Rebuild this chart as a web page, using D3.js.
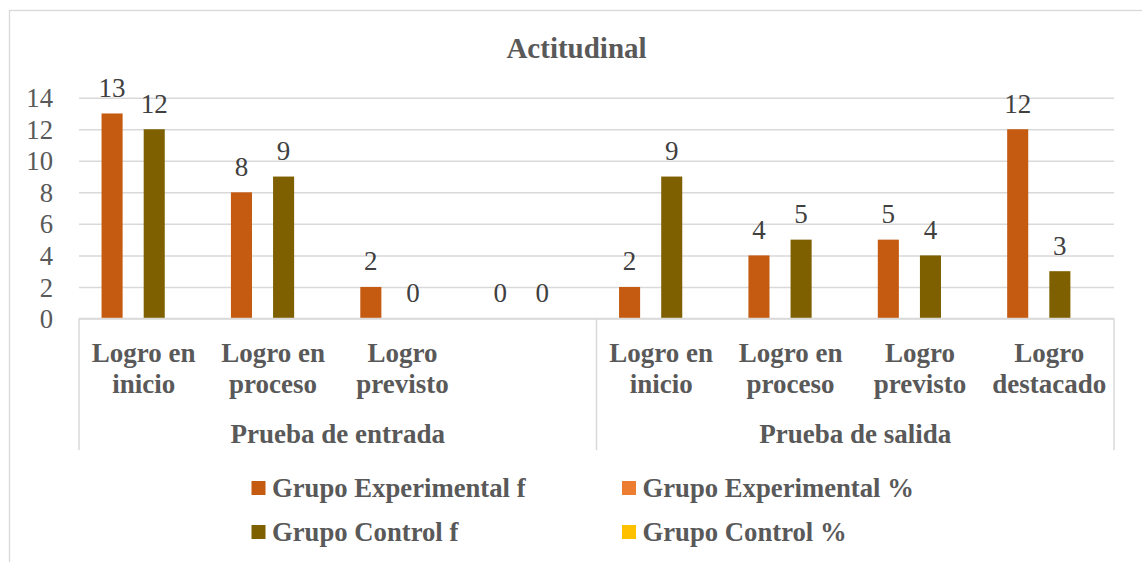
<html>
<head>
<meta charset="utf-8">
<script src="https://cdn.jsdelivr.net/npm/d3@7"></script>
</head>
<body style="margin:0">
<svg id="chart" width="1142" height="562" font-family="Times New Roman, Liberation Serif, Tinos, serif"></svg>
<script>
// ---- data ----
const title = "Actitudinal";
const categories = ["Logro en\ninicio", "Logro en\nproceso", "Logro\nprevisto", "",
                    "Logro en\ninicio", "Logro en\nproceso", "Logro\nprevisto", "Logro\ndestacado"];
const groups = ["Prueba de entrada", "Prueba de salida"];
const groupOf = [0, 0, 0, 0, 1, 1, 1, 1];
const seriesNames = ["Grupo Experimental f", "Grupo Experimental %", "Grupo Control f", "Grupo Control %"];
const expF   = [13, 8, 2, 0, 2, 4, 5, 12];
const expPct = [null, null, null, null, null, null, null, null];
const ctrlF  = [12, 9, 0, 0, 9, 5, 4, 3];
const ctrlPct= [null, null, null, null, null, null, null, null];
const seriesValues = [expF, expPct, ctrlF, ctrlPct];
const seriesColors = ["#C55A11", "#ED7D31", "#7F6000", "#FFC000"];
const yTicks = [0, 2, 4, 6, 8, 10, 12, 14];

const FAMILY = "Times New Roman, Liberation Serif, Tinos, serif";

// ---- layout ----
const svg = d3.select("#chart");
const plot = { left: 79, right: 1114, top: 97.7, bottom: 318.5 };
const gridColor = "#d9d9d9";
const textGray = "#595959";
const labelGray = "#404040";

function addText(parent, x, yy, str, size, bold, fill, anchor) {
  return parent.append("text")
    .attr("x", x).attr("y", yy)
    .attr("font-family", FAMILY)
    .attr("font-size", size)
    .attr("font-weight", bold ? "bold" : "normal")
    .attr("text-anchor", anchor)
    .attr("fill", fill)
    .text(str);
}

// chart border
svg.append("rect")
  .attr("x", 9.5).attr("y", 10.5)
  .attr("width", 1134).attr("height", 600)
  .attr("fill", "#fff").attr("stroke", gridColor).attr("stroke-width", 1.3);

// title
addText(svg, 576.5, 58, title, 29, true, textGray, "middle");

const y = d3.scaleLinear().domain([0, 14]).range([plot.bottom, plot.top]);
const x0 = d3.scaleBand().domain(d3.range(categories.length)).range([plot.left, plot.right]).paddingInner(0).paddingOuter(0);
const x1 = d3.scaleBand().domain(d3.range(seriesNames.length)).range([0, x0.bandwidth()]).paddingInner(0).paddingOuter(1.07);

// gridlines via axis (tick text drawn separately)
const yAxis = d3.axisLeft(y).tickValues(yTicks).tickSize(-(plot.right - plot.left)).tickFormat("");
const yg = svg.append("g").attr("transform", `translate(${plot.left},0)`).call(yAxis);
yg.select(".domain").remove();
yg.selectAll(".tick text").remove();
yg.selectAll(".tick line").attr("stroke", gridColor).attr("stroke-width", 1.5);
yTicks.forEach(t => {
  addText(svg, plot.left - 26, y(t) + 9.6, d3.format("d")(t), 26.7, false, textGray, "end");
});

// bars
seriesValues.forEach((vals, s) => {
  const g = svg.append("g");
  const pts = vals.map((v, i) => ({ v, i })).filter(d => d.v !== null);
  g.selectAll("rect").data(pts).join("rect")
    .attr("x", d => x0(d.i) + x1(s))
    .attr("width", x1.bandwidth())
    .attr("y", d => y(d.v))
    .attr("height", d => y(0) - y(d.v))
    .attr("fill", seriesColors[s]);
  pts.forEach(d => {
    addText(g, x0(d.i) + x1(s) + x1.bandwidth() / 2, y(d.v) - 16.5, String(d.v), 27, false, labelGray, "middle");
  });
});

// category axis line and group separators
const axisBottomY = 450;
svg.append("line")
  .attr("x1", plot.left).attr("x2", plot.right)
  .attr("y1", plot.bottom).attr("y2", plot.bottom)
  .attr("stroke", gridColor).attr("stroke-width", 1.5);
const sepIdx = [0];
groupOf.forEach((g, i) => { if (i > 0 && g !== groupOf[i - 1]) sepIdx.push(i); });
const sepX = sepIdx.map(i => x0(i)).concat([plot.right]);
svg.selectAll("line.sep").data(sepX).join("line").attr("class", "sep")
  .attr("x1", d => d).attr("x2", d => d)
  .attr("y1", plot.bottom).attr("y2", axisBottomY)
  .attr("stroke", gridColor).attr("stroke-width", 1.5);

// level-1 labels
categories.forEach((cat, i) => {
  cat.split("\n").forEach((ln, k) => {
    if (ln) addText(svg, x0(i) + x0.bandwidth() / 2, 361.7 + k * 31, ln, 27, true, textGray, "middle");
  });
});

// level-2 labels
groups.forEach((gname, gi) => {
  const idx = groupOf.map((g, i) => g === gi ? i : -1).filter(i => i >= 0);
  const xa = x0(idx[0]);
  const xb = x0(idx[idx.length - 1]) + x0.bandwidth();
  addText(svg, (xa + xb) / 2, 443, gname, 27, true, textGray, "middle");
});

// legend (2 columns x 2 rows)
const legendPos = [
  { x: 251.5, y: 497 }, { x: 622, y: 497 },
  { x: 251.5, y: 541 }, { x: 622, y: 541 }
];
seriesNames.forEach((name, s) => {
  const p = legendPos[s];
  svg.append("rect")
    .attr("x", p.x).attr("y", p.y - 16)
    .attr("width", 14).attr("height", 14)
    .attr("fill", seriesColors[s]);
  addText(svg, p.x + 20.5, p.y, name, 26.7, true, textGray, "start");
});
</script>
</body>
</html>
